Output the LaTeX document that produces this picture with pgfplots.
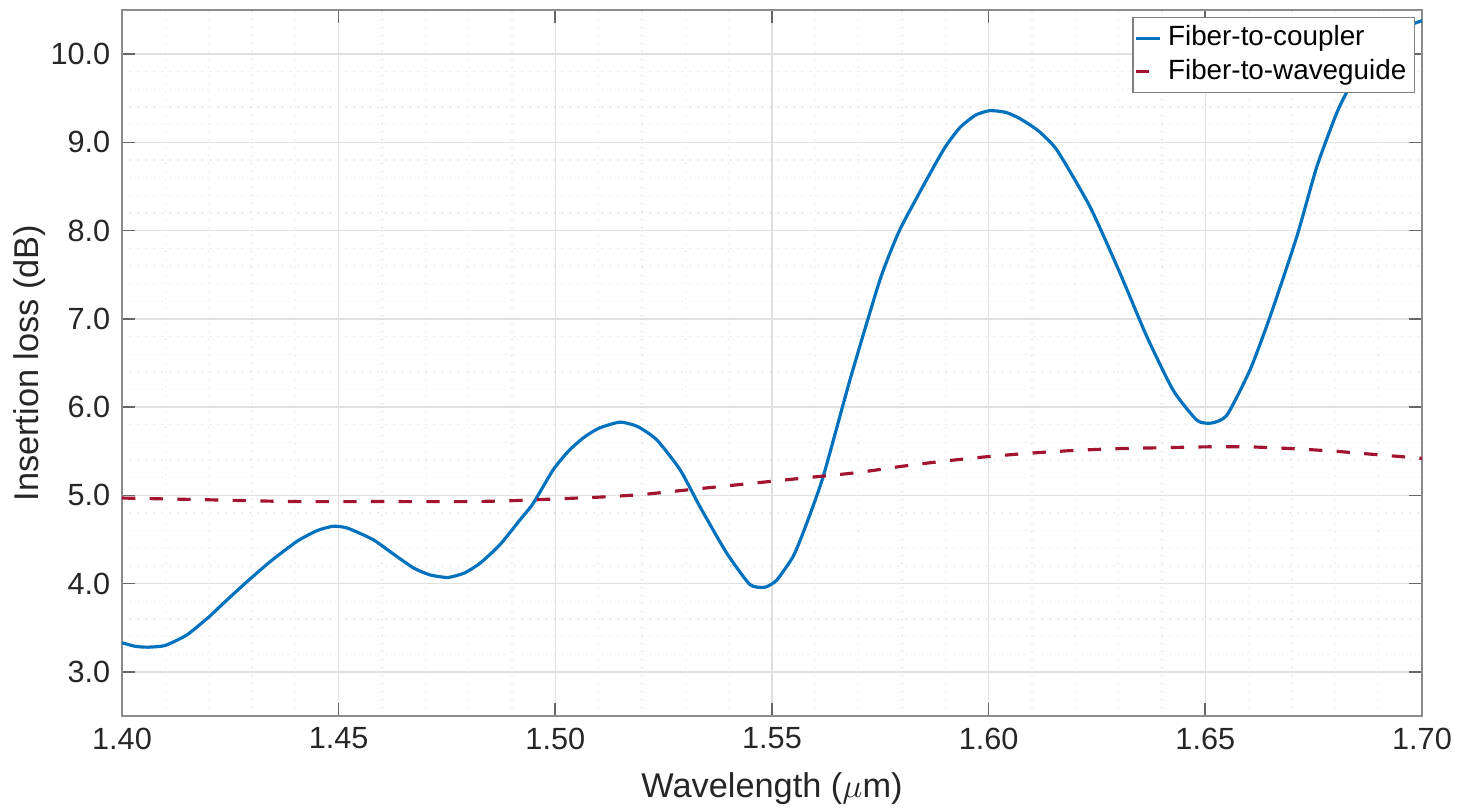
\documentclass[border=0pt]{standalone}
\usepackage{fontspec}
\setmainfont{Liberation Sans}
\usepackage{pgfplots}
\pgfplotsset{compat=1.18}
\definecolor{mblue}{RGB}{0,114,189}
\definecolor{mred}{RGB}{162,20,47}
\definecolor{txt}{RGB}{38,38,38}
\begin{document}
\begin{tikzpicture}
\begin{axis}[
  at={(0,0)}, anchor=south west,
  scale only axis, width=390pt, height=211.8pt,
  xmin=1.40, xmax=1.70, ymin=2.5, ymax=10.5,
  xtick={1.40,1.45,1.50,1.55,1.60,1.65,1.70},
  ytick={3,4,5,6,7,8,9,10},
  minor x tick num=4, minor y tick num=4,
  grid=both,
  major grid style={draw=black!12, line width=0.4pt},
  minor grid style={draw=black!12, dotted, line width=0.4pt},
  axis line style={draw=black!45, line width=0.5pt},
  major tick length=4pt, minor tick length=0pt,
  tick style={draw=black!60, line width=0.5pt},
  tick align=inside,
  xticklabel style={/pgf/number format/.cd, fixed, fixed zerofill, precision=2},
  yticklabel style={/pgf/number format/.cd, fixed, fixed zerofill, precision=1},
  /pgf/number format/assume math mode=true,
  ticklabel style={font=\fontsize{9.2}{10}\selectfont, text=txt},
  label style={font=\fontsize{10.3}{12}\selectfont, text=txt},
  xlabel={Wavelength ($\mu$m)},
  ylabel={Insertion loss (dB)},
  xlabel style={yshift=0pt},
  ylabel style={yshift=-5.5pt},
  legend style={at={(rel axis cs:1,1)}, anchor=north east, xshift=-2pt, yshift=-2pt,
    draw=black!50, fill=white, font=\fontsize{8.35}{9.5}\selectfont,
    inner xsep=0.5pt, inner ysep=0.5pt,
    row sep=-1.5pt, cells={anchor=west}},
  legend image code/.code={\draw[#1] (0,0) -- (0.25cm,0);},
  legend cell align=left,
]
\addplot[mblue, line width=0.95pt, smooth, tension=0.35] coordinates {
(1.400,3.33) (1.403,3.29) (1.406,3.28) (1.410,3.30) (1.415,3.42) (1.420,3.62)
(1.4226,3.74) (1.425,3.85) (1.4288,4.02) (1.4342,4.25) (1.4404,4.48) (1.445,4.60)
(1.4487,4.65) (1.452,4.63) (1.4579,4.50) (1.4625,4.34) (1.4672,4.18) (1.471,4.10)
(1.4752,4.07) (1.479,4.12) (1.4826,4.23) (1.4872,4.44) (1.4918,4.72) (1.4949,4.91)
(1.4995,5.29) (1.503,5.50) (1.5064,5.65) (1.510,5.76) (1.5149,5.83) (1.519,5.78)
(1.5234,5.63) (1.5288,5.29) (1.5334,4.87) (1.5395,4.35) (1.5449,3.99) (1.5484,3.96)
(1.5511,4.04) (1.5549,4.31) (1.5576,4.63) (1.5618,5.21) (1.568,6.31) (1.5749,7.44)
(1.5795,8.01) (1.5865,8.65) (1.5900,8.95) (1.5934,9.17) (1.5970,9.31) (1.6003,9.36)
(1.6040,9.34) (1.6072,9.27) (1.6115,9.13) (1.6158,8.91) (1.6234,8.27) (1.6303,7.52)
(1.6365,6.80) (1.6426,6.19) (1.6481,5.85) (1.6515,5.82) (1.6550,5.91) (1.6603,6.42)
(1.6649,7.02) (1.6711,7.93) (1.6757,8.72) (1.6803,9.33) (1.6834,9.63) (1.690,10.05)
(1.695,10.28) (1.700,10.38)
};
\addlegendentry{Fiber-to-coupler}
\addplot[mred, line width=0.95pt, dash pattern=on 4pt off 4.3pt, smooth, tension=0.4] coordinates {
(1.40,4.97) (1.42,4.95) (1.44,4.93) (1.46,4.93) (1.48,4.93) (1.49,4.94) (1.50,4.96)
(1.51,4.98) (1.52,5.01) (1.53,5.06) (1.54,5.11) (1.55,5.16) (1.56,5.21) (1.57,5.26)
(1.58,5.33) (1.59,5.39) (1.60,5.44) (1.61,5.48) (1.62,5.51) (1.63,5.53) (1.64,5.54)
(1.65,5.55) (1.66,5.55) (1.67,5.53) (1.68,5.50) (1.69,5.46) (1.70,5.42)
};
\addlegendentry{Fiber-to-waveguide}
\end{axis}
\pgfresetboundingbox
\path (-36.6pt,-27.3pt) rectangle (400.5pt,214.8pt);
\end{tikzpicture}
\end{document}
